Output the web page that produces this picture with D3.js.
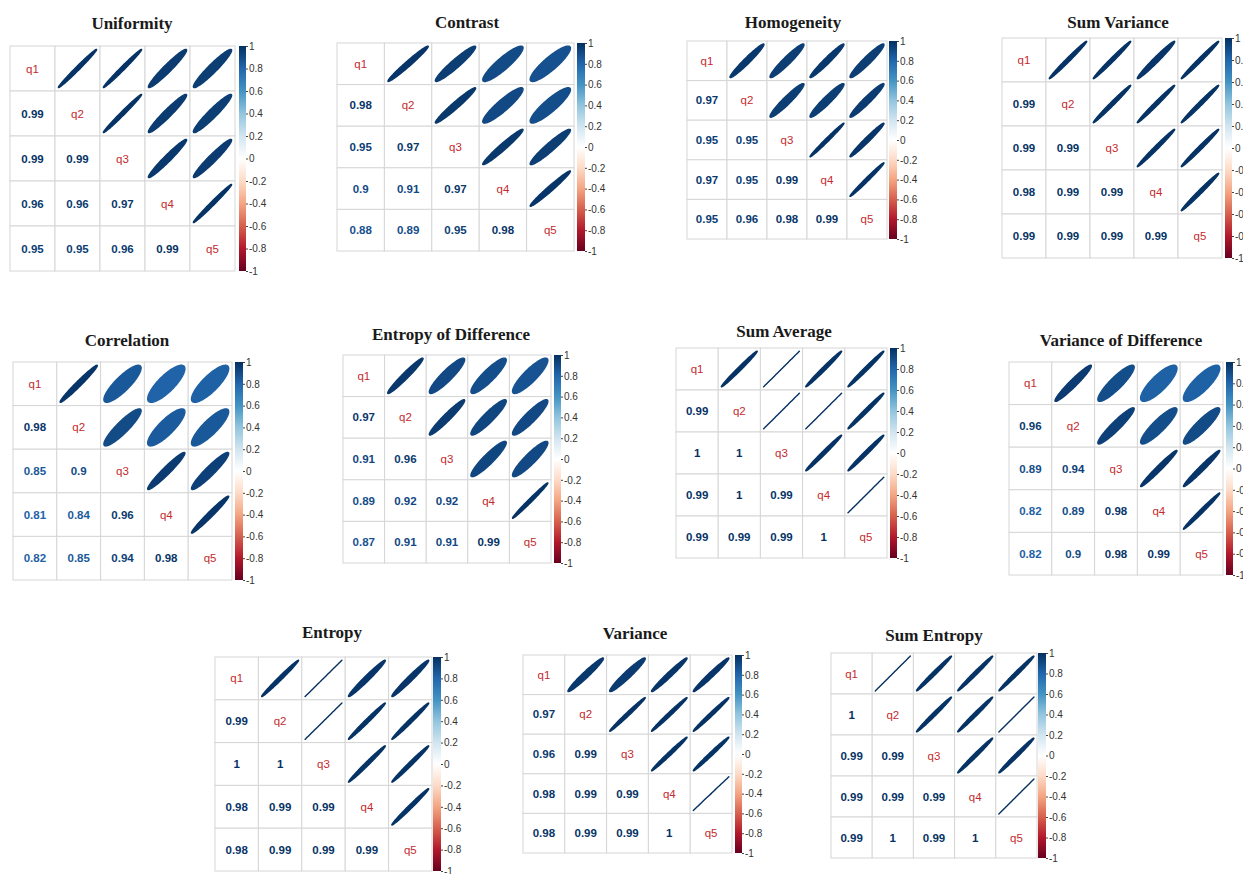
<!DOCTYPE html>
<html>
<head>
<meta charset="utf-8">
<script src="https://cdn.jsdelivr.net/npm/d3@7"></script>
<style>
  body { margin: 0; background: #fff; }
  svg { display: block; }
</style>
</head>
<body>
<svg id="chart" width="1243" height="874"></svg>
<script>
// variables on both axes of every matrix
const vars = ["q1", "q2", "q3", "q4", "q5"]

// lower triangle of each matrix, row q2..q5
const uniformity   = [[0.99], [0.99, 0.99], [0.96, 0.96, 0.97], [0.95, 0.95, 0.96, 0.99]]
const contrast     = [[0.98], [0.95, 0.97], [0.9, 0.91, 0.97], [0.88, 0.89, 0.95, 0.98]]
const homogeneity  = [[0.97], [0.95, 0.95], [0.97, 0.95, 0.99], [0.95, 0.96, 0.98, 0.99]]
const sumVariance  = [[0.99], [0.99, 0.99], [0.98, 0.99, 0.99], [0.99, 0.99, 0.99, 0.99]]
const correlation  = [[0.98], [0.85, 0.9], [0.81, 0.84, 0.96], [0.82, 0.85, 0.94, 0.98]]
const entropyDiff  = [[0.97], [0.91, 0.96], [0.89, 0.92, 0.92], [0.87, 0.91, 0.91, 0.99]]
const sumAverage   = [[0.99], [1, 1], [0.99, 1, 0.99], [0.99, 0.99, 0.99, 1]]
const varianceDiff = [[0.96], [0.89, 0.94], [0.82, 0.89, 0.98], [0.82, 0.9, 0.98, 0.99]]
const entropy      = [[0.99], [1, 1], [0.98, 0.99, 0.99], [0.98, 0.99, 0.99, 0.99]]
const variance     = [[0.97], [0.96, 0.99], [0.98, 0.99, 0.99], [0.98, 0.99, 0.99, 1]]
const sumEntropy   = [[1], [0.99, 0.99], [0.99, 0.99, 0.99], [0.99, 1, 0.99, 1]]

const titles = ["Uniformity", "Contrast", "Homogeneity", "Sum Variance",
    "Correlation", "Entropy of Difference", "Sum Average", "Variance of Difference",
    "Entropy", "Variance", "Sum Entropy"]
const matrices = [uniformity, contrast, homogeneity, sumVariance,
    correlation, entropyDiff, sumAverage, varianceDiff,
    entropy, variance, sumEntropy]

// colour legend ticks
const legendTicks = [1, 0.8, 0.6, 0.4, 0.2, 0, -0.2, -0.4, -0.6, -0.8, -1]

// RdBu palette of corrplot, from -1 to 1
const rdbu = ["#67001F", "#B2182B", "#D6604D", "#F4A582", "#FDDBC7", "#FFFFFF",
    "#D1E5F0", "#92C5DE", "#4393C3", "#2166AC", "#053061"]

// where each panel sits: grid box [x0,y0,x1,y1], colour bar [x0,x1], title [cx, baseline]
const layout = [
    {grid: [10, 46, 235, 271],    bar: [239, 246],   title: [132, 29]},
    {grid: [337, 43, 574, 251],   bar: [577, 585],   title: [467, 28]},
    {grid: [687, 41, 887, 239],   bar: [889, 897],   title: [793, 28]},
    {grid: [1002, 38, 1222, 258], bar: [1225, 1232], title: [1118, 28]},
    {grid: [13, 362, 232, 580],   bar: [235, 243],   title: [127, 346]},
    {grid: [343, 355, 551, 563],  bar: [554, 561],   title: [451, 340]},
    {grid: [676, 348, 887, 558],  bar: [890, 897],   title: [784, 337]},
    {grid: [1009, 362, 1223, 575], bar: [1226, 1233], title: [1121, 346]},
    {grid: [215, 657, 432, 871],  bar: [433, 441],   title: [332, 638]},
    {grid: [523, 655, 732, 853],  bar: [735, 742],   title: [635, 639]},
    {grid: [831, 653, 1037, 858], bar: [1038, 1046], title: [934, 641]}
]

const color = d3.scaleLinear()
    .domain(d3.range(rdbu.length).map(i => -1 + i * 2 / (rdbu.length - 1)))
    .range(rdbu)

const svg = d3.select("#chart")

// shared gradient for the legends (offset 0 = -1 at the bottom)
const grad = svg.append("defs").append("linearGradient")
    .attr("id", "rdbu")
    .attr("x1", 0).attr("y1", 1).attr("x2", 0).attr("y2", 0)
grad.selectAll("stop")
    .data(rdbu)
    .join("stop")
    .attr("offset", (d, i) => i / (rdbu.length - 1))
    .attr("stop-color", d => d)

// full symmetric matrix from the lower triangle
function fullMatrix(lower) {
    const m = vars.map(() => vars.map(() => 1))
    lower.forEach((row, r) => {
        row.forEach((v, c) => {
            m[r + 1][c] = v
            m[c][r + 1] = v
        })
    })
    return m
}

// corrplot's ellipse: points in cell units, y up
function ellipsePoints(rho) {
    const a = Math.acos(Math.max(-1, Math.min(1, rho)))
    return d3.range(0, 100).map(i => {
        const k = i / 99 * 2 * Math.PI
        return [0.85 * Math.cos(k + a / 2) / 2, 0.85 * Math.cos(k - a / 2) / 2]
    })
}

matrices.forEach((lower, p) => {
    const L = layout[p]
    const m = fullMatrix(lower)
    const g = svg.append("g")

    const x = d3.scaleBand().domain(vars).range([L.grid[0], L.grid[2]])
    const y = d3.scaleBand().domain(vars).range([L.grid[1], L.grid[3]])

    const cells = []
    vars.forEach((rv, i) => vars.forEach((cv, j) => {
        cells.push({row: rv, col: cv, i: i, j: j, v: m[i][j]})
    }))

    // grid
    g.selectAll("rect.cell")
        .data(cells)
        .join("rect")
        .attr("class", "cell")
        .attr("x", d => x(d.col))
        .attr("y", d => y(d.row))
        .attr("width", x.bandwidth())
        .attr("height", y.bandwidth())
        .attr("fill", "#fff")
        .attr("stroke", "#d6d6d6")
        .attr("stroke-width", 1)

    // upper triangle: ellipses
    const line = d3.line().curve(d3.curveLinearClosed)
    g.selectAll("path.ell")
        .data(cells.filter(d => d.j > d.i))
        .join("path")
        .attr("class", "ell")
        .attr("d", d => {
            const cx = x(d.col) + x.bandwidth() / 2
            const cy = y(d.row) + y.bandwidth() / 2
            return line(ellipsePoints(d.v).map(([px, py]) =>
                [cx + px * x.bandwidth(), cy - py * y.bandwidth()]))
        })
        .attr("fill", d => color(d.v))
        .attr("stroke", d => color(d.v))
        .attr("stroke-width", 1.4)
        .attr("stroke-linejoin", "round")

    // lower triangle: coefficients
    g.selectAll("text.num")
        .data(cells.filter(d => d.j < d.i))
        .join("text")
        .attr("class", "num")
        .attr("x", d => x(d.col) + x.bandwidth() / 2)
        .attr("y", d => y(d.row) + y.bandwidth() / 2)
        .attr("text-anchor", "middle")
        .attr("dominant-baseline", "central")
        .style("font-family", "'Liberation Sans', Arial, sans-serif")
        .style("font-weight", "bold")
        .style("font-size", "11.5px")
        .attr("fill", d => color(d.v))
        .text(d => String(d.v))

    // diagonal: variable names
    g.selectAll("text.lab")
        .data(cells.filter(d => d.j === d.i))
        .join("text")
        .attr("class", "lab")
        .attr("x", d => x(d.col) + x.bandwidth() / 2)
        .attr("y", d => y(d.row) + y.bandwidth() / 2)
        .attr("text-anchor", "middle")
        .attr("dominant-baseline", "central")
        .style("font-family", "'Liberation Sans', Arial, sans-serif")
        .style("font-size", "11.5px")
        .attr("fill", "#c42a2e")
        .text(d => d.row)

    // colour legend
    g.append("rect")
        .attr("x", L.bar[0])
        .attr("y", L.grid[1])
        .attr("width", L.bar[1] - L.bar[0])
        .attr("height", L.grid[3] - L.grid[1])
        .attr("fill", "url(#rdbu)")

    const ly = d3.scaleLinear().domain([-1, 1]).range([L.grid[3], L.grid[1]])
    const axis = g.append("g")
        .attr("transform", `translate(${L.bar[1]},0)`)
        .call(d3.axisRight(ly)
            .tickValues(legendTicks)
            .tickSize(2)
            .tickPadding(1)
            .tickFormat(d => String(d)))
    axis.select(".domain").remove()
    axis.selectAll(".tick line").attr("stroke", "#444")
    axis.selectAll(".tick text")
        .attr("fill", "#333")
        .style("font-family", "'Liberation Sans', Arial, sans-serif")
        .style("font-size", "10px")

    // title
    g.append("text")
        .attr("x", L.title[0])
        .attr("y", L.title[1])
        .attr("text-anchor", "middle")
        .style("font-family", "'Liberation Serif', 'Times New Roman', serif")
        .style("font-weight", "bold")
        .style("font-size", "17px")
        .attr("fill", "#1a1a1a")
        .text(titles[p])
})
</script>
</body>
</html>
